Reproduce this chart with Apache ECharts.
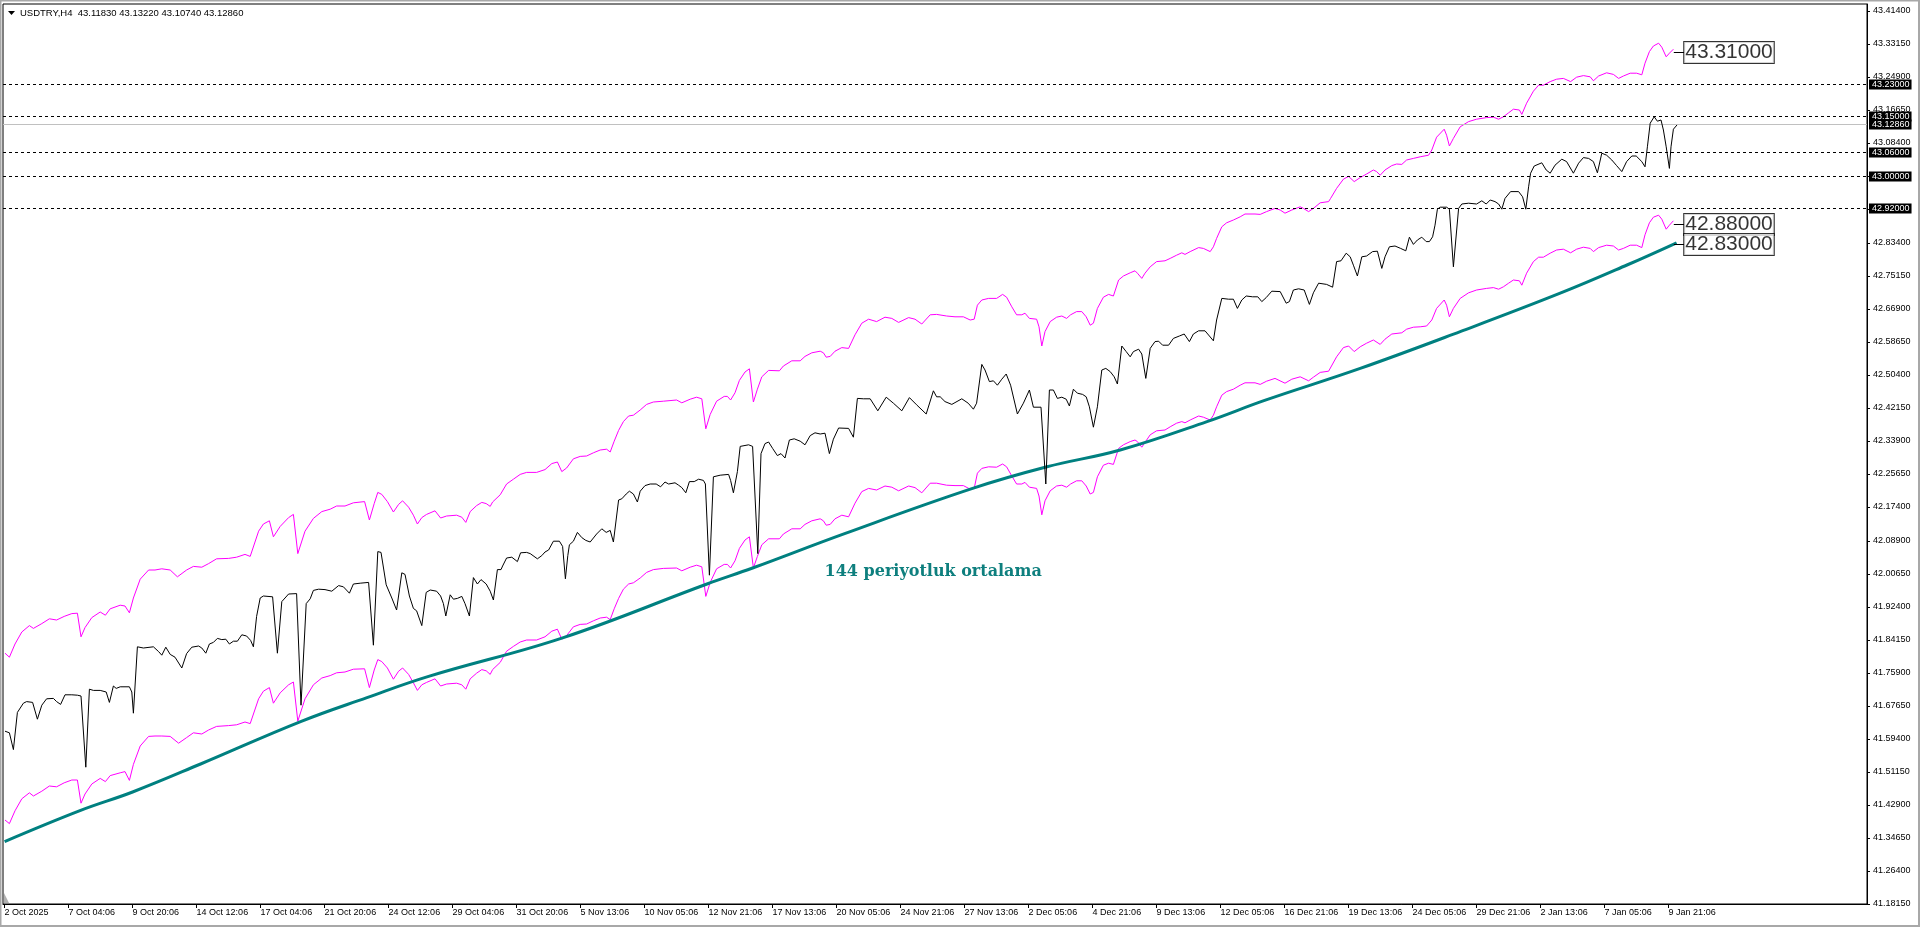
<!DOCTYPE html>
<html><head><meta charset="utf-8">
<script src="https://cdn.jsdelivr.net/npm/echarts@6/dist/echarts.min.js"></script>
<style>html,body{margin:0;padding:0;background:#fff;}#c{width:1920px;height:927px;}</style>
</head><body><div id="c"></div>
<script>
// ---------- data ----------
const symbolName = 'USDTRY,H4';
const ohlc = [43.1183, 43.1322, 43.1074, 43.1286];
const lastPrice = 43.1286;
const levels = [43.23, 43.15, 43.06, 43.00, 42.92];
const boxLabels = [43.31, 42.88, 42.83];
const annotation = '144 periyotluk ortalama';

const xTickBars = [0,16,32,48,64,80,96,112,128,144,160,176,192,208,224,240,256,272,288,304,320,336,352,368,384,400,416];
const xTickLabels = ['2 Oct 2025','7 Oct 04:06','9 Oct 20:06','14 Oct 12:06','17 Oct 04:06','21 Oct 20:06','24 Oct 12:06','29 Oct 04:06','31 Oct 20:06','5 Nov 13:06','10 Nov 05:06','12 Nov 21:06','17 Nov 13:06','20 Nov 05:06','24 Nov 21:06','27 Nov 13:06','2 Dec 05:06','4 Dec 21:06','9 Dec 13:06','12 Dec 05:06','16 Dec 21:06','19 Dec 13:06','24 Dec 05:06','29 Dec 21:06','2 Jan 13:06','7 Jan 05:06','9 Jan 21:06'];
const yTicks = [41.1815,41.264,41.3465,41.429,41.5115,41.594,41.6765,41.759,41.8415,41.924,42.0065,42.089,42.174,42.2565,42.339,42.4215,42.504,42.5865,42.669,42.7515,42.834,42.919,43.0015,43.084,43.1665,43.249,43.3315,43.414];

// price (H4 close) : [bar, value]
const price = [[0.1,41.613],[1.2,41.609],[2.2,41.567],[3.2,41.660],[4.7,41.683],[5.5,41.687],[7,41.685],[8.2,41.643],[9.3,41.678],[10.5,41.694],[12.2,41.695],[13,41.687],[14,41.680],[15.1,41.704],[16.8,41.704],[18.2,41.703],[19.1,41.701],[20.3,41.523],[21.2,41.718],[22.2,41.715],[23.9,41.715],[25.4,41.711],[26.2,41.685],[27.2,41.726],[27.9,41.720],[28.9,41.724],[31.2,41.724],[31.8,41.711],[32.2,41.658],[33.2,41.824],[34.7,41.821],[37.2,41.824],[38.5,41.812],[39.3,41.803],[40.3,41.823],[41.4,41.805],[42.6,41.798],[44.3,41.771],[45.5,41.807],[46.8,41.823],[48.5,41.826],[49.3,41.821],[50.3,41.808],[51.2,41.831],[52.2,41.835],[53.2,41.845],[54.3,41.842],[55.3,41.843],[56.2,41.831],[57.2,41.838],[58.2,41.838],[59.3,41.854],[60.5,41.851],[61.5,41.840],[62.2,41.824],[63,41.900],[63.9,41.946],[64.7,41.951],[67,41.949],[68.2,41.808],[69.3,41.937],[71,41.956],[73,41.957],[74.1,41.678],[75.4,41.932],[76.4,41.944],[77.2,41.965],[78.5,41.968],[80.1,41.967],[81.8,41.963],[83.5,41.977],[84.7,41.974],[86.2,41.958],[87.2,41.981],[88.9,41.983],[91,41.985],[92.2,41.828],[93.3,42.062],[94.1,42.060],[95.4,41.979],[96.8,41.946],[98,41.916],[99.3,42.009],[100.1,42.005],[101.2,41.951],[102.2,41.920],[103,41.914],[104.3,41.877],[105.4,41.960],[106.4,41.966],[108,41.963],[109,41.951],[109.7,41.932],[110.3,41.901],[111.4,41.954],[112.2,41.943],[113.2,41.945],[114.3,41.950],[115.1,41.932],[116.2,41.901],[117.2,41.997],[118.2,41.981],[119.1,41.992],[120.4,41.981],[121.4,41.963],[122.2,41.941],[123.2,42.017],[124.1,42.017],[124.5,42.026],[125.5,42.046],[126.8,42.048],[128.2,42.037],[129,42.059],[130.5,42.060],[131.4,42.057],[133.2,42.044],[134.3,42.052],[135.1,42.061],[136,42.066],[137.2,42.088],[138.7,42.088],[139.5,42.075],[140.2,41.994],[140.8,42.052],[141.2,42.079],[142.2,42.088],[143.2,42.110],[144.3,42.097],[145.3,42.090],[146.4,42.086],[148,42.106],[149.3,42.119],[150.4,42.110],[151.4,42.115],[152.2,42.086],[153.5,42.191],[154.3,42.194],[155.4,42.206],[156.2,42.213],[157.2,42.206],[158.2,42.186],[158.9,42.213],[160.1,42.227],[161.4,42.231],[162.9,42.231],[164,42.224],[165.1,42.236],[166,42.231],[167.6,42.234],[168.5,42.228],[169.3,42.222],[170.3,42.209],[171.2,42.237],[172.4,42.237],[173.5,42.243],[174.7,42.240],[175.2,42.231],[176.2,42.003],[177.2,42.249],[178.9,42.253],[181,42.255],[181.5,42.240],[182.2,42.209],[183.2,42.262],[183.9,42.325],[184.3,42.329],[186,42.329],[187,42.325],[188.3,42.057],[189.1,42.307],[190.1,42.332],[191,42.336],[192,42.320],[193.2,42.302],[194.1,42.307],[195.1,42.296],[196.2,42.341],[197.4,42.344],[198.9,42.338],[200.1,42.329],[201.4,42.352],[202.6,42.359],[203.9,42.356],[205.1,42.358],[206.2,42.307],[207.2,42.343],[208.5,42.371],[211,42.370],[212.2,42.348],[213.2,42.445],[214.7,42.444],[216.4,42.444],[218.3,42.414],[220.4,42.448],[222.2,42.433],[224.3,42.414],[226.2,42.447],[228,42.429],[230.4,42.406],[232.2,42.464],[233,42.449],[233.9,42.449],[235.1,42.437],[236.8,42.430],[239.3,42.444],[240.9,42.433],[242.2,42.418],[243,42.433],[244.3,42.530],[245.1,42.516],[246.2,42.487],[247.2,42.489],[248.2,42.478],[249.3,42.493],[250.4,42.506],[251.5,42.478],[253.2,42.406],[254.7,42.433],[256.2,42.466],[257.2,42.423],[259.1,42.423],[260.3,42.231],[261.2,42.466],[262.2,42.466],[263.2,42.445],[264.3,42.448],[265.4,42.443],[266.2,42.426],[267.2,42.468],[268.2,42.458],[269.5,42.455],[270.4,42.449],[271.2,42.424],[272.2,42.373],[273.2,42.424],[274.3,42.516],[275.3,42.520],[276.4,42.512],[277.4,42.499],[278.2,42.481],[279.3,42.576],[280.4,42.562],[281.4,42.549],[282.2,42.562],[283.5,42.568],[284.3,42.556],[285.3,42.495],[286.4,42.570],[287.6,42.587],[288.5,42.588],[289.5,42.578],[291,42.578],[292.2,42.595],[293.7,42.601],[294.9,42.606],[296.2,42.587],[297.2,42.606],[298.5,42.614],[300.1,42.614],[301.2,42.601],[302.2,42.589],[303,42.641],[304.3,42.695],[306,42.693],[307.2,42.693],[308.2,42.670],[309.3,42.691],[310.4,42.701],[312,42.699],[313.3,42.699],[314.3,42.687],[315.4,42.697],[316.8,42.713],[318.9,42.712],[320.4,42.683],[321.2,42.687],[322.2,42.716],[323.5,42.719],[324.9,42.716],[326.2,42.680],[327.2,42.709],[328.5,42.733],[330.5,42.730],[332,42.723],[333,42.787],[334.1,42.789],[335.4,42.808],[336.4,42.799],[337.2,42.778],[338.2,42.751],[339.3,42.799],[340.5,42.801],[342,42.812],[343.2,42.813],[344.3,42.770],[345.1,42.799],[346.2,42.824],[347.6,42.826],[349,42.820],[350.3,42.814],[351.2,42.848],[352.2,42.830],[353.2,42.841],[354.3,42.848],[355.4,42.837],[356.2,42.837],[357,42.849],[357.6,42.878],[358.2,42.918],[358.9,42.923],[360.5,42.923],[361.2,42.918],[362.2,42.774],[363.5,42.920],[364.3,42.931],[366,42.933],[368,42.931],[369.3,42.939],[370.4,42.931],[371.4,42.941],[372.6,42.937],[373.5,42.931],[374.3,42.918],[375.1,42.945],[376.5,42.962],[378.5,42.962],[379.5,42.949],[380.3,42.918],[381,42.974],[381.5,43.008],[382.4,43.026],[384.3,43.034],[385.4,43.016],[386.4,43.008],[387.6,43.028],[389.3,43.043],[390.5,43.037],[392.2,43.008],[393.5,43.033],[394.7,43.047],[396,43.045],[397.2,43.037],[398.2,43.009],[399.3,43.058],[400.5,43.053],[401.8,43.041],[403,43.027],[404.3,43.012],[405.5,43.037],[406.8,43.051],[407.9,43.051],[409.3,43.037],[410.1,43.024],[410.7,43.074],[411.4,43.133],[412.4,43.149],[413.2,43.138],[414.1,43.141],[414.7,43.116],[415.4,43.074],[416.2,43.020],[416.6,43.074],[417.2,43.118],[418.1,43.1286]];

// upper envelope (magenta)
const upperEnv = [[0.1,41.808],[1.2,41.798],[2.6,41.831],[4.3,41.861],[6.2,41.877],[7.2,41.870],[9.3,41.882],[11.2,41.894],[13,41.891],[14.9,41.900],[16.8,41.907],[18.2,41.908],[19.1,41.849],[20.1,41.872],[21.8,41.897],[23.9,41.911],[25.2,41.903],[26.4,41.919],[28.9,41.928],[30.1,41.926],[31.2,41.909],[32.2,41.946],[33.9,41.993],[36,42.016],[37.6,42.016],[39.3,42.019],[41.4,42.016],[43.2,41.999],[45.5,42.016],[47.2,42.025],[49.3,42.023],[51,42.032],[53,42.044],[56,42.045],[58,42.048],[60.1,42.055],[61.4,42.050],[63.5,42.113],[64.7,42.131],[66.2,42.139],[67.2,42.099],[68.9,42.125],[71,42.147],[72.2,42.155],[73.3,42.057],[75.1,42.113],[77.2,42.145],[79.3,42.162],[81.4,42.168],[83,42.176],[85.1,42.176],[87.2,42.184],[90,42.187],[91.2,42.141],[92.4,42.182],[93.3,42.210],[94.3,42.205],[95.7,42.187],[97.2,42.161],[98.5,42.180],[99.5,42.189],[101,42.173],[102.2,42.153],[103.2,42.131],[104.3,42.147],[105.5,42.155],[107.6,42.164],[109,42.146],[110.5,42.151],[113,42.153],[114.3,42.148],[115.3,42.135],[116.4,42.162],[118,42.177],[119.3,42.185],[120.4,42.182],[121.4,42.175],[122,42.186],[123.9,42.204],[125.5,42.231],[127.2,42.243],[128.9,42.255],[130.5,42.260],[133,42.260],[135.1,42.267],[136.8,42.282],[138.2,42.286],[139.3,42.262],[140.5,42.271],[142.2,42.294],[143.9,42.300],[145.5,42.301],[147.2,42.309],[148.9,42.316],[150.5,42.318],[151.4,42.311],[152.4,42.338],[153.5,42.365],[154.7,42.387],[156,42.401],[157.2,42.403],[158.9,42.416],[160.5,42.430],[162.2,42.436],[164.7,42.438],[168,42.441],[169.3,42.434],[171.4,42.443],[173,42.448],[174.3,42.444],[175.3,42.369],[176.4,42.405],[178,42.438],[179.9,42.450],[180.7,42.450],[181.5,42.441],[182.6,42.459],[183.7,42.490],[185.1,42.511],[186.2,42.519],[187.2,42.436],[188.2,42.468],[189.3,42.499],[191,42.515],[193.7,42.514],[194.7,42.526],[196.8,42.539],[198.9,42.539],[200.1,42.550],[201.8,42.559],[203.9,42.563],[204.7,42.559],[205.4,42.548],[206.4,42.550],[207.6,42.563],[209.3,42.572],[211,42.570],[212.6,42.604],[214.3,42.633],[216,42.643],[218,42.637],[220.1,42.648],[221.8,42.645],[223.5,42.635],[226,42.647],[227.6,42.643],[229.3,42.631],[231.4,42.654],[233,42.655],[235.5,42.651],[237.6,42.649],[239.7,42.649],[241.4,42.641],[242.4,42.643],[243.2,42.678],[244.3,42.691],[246,42.695],[248,42.695],[249.5,42.705],[250.5,42.698],[251.8,42.674],[253,42.654],[254.3,42.654],[255.1,42.658],[256.2,42.645],[258,42.643],[258.6,42.624],[259.3,42.576],[260.1,42.612],[261.4,42.637],[263,42.648],[264.3,42.651],[265.5,42.645],[266.5,42.654],[268,42.662],[269.3,42.662],[270.4,42.649],[271.4,42.628],[272.2,42.633],[273.2,42.670],[274.7,42.698],[276,42.705],[277.2,42.701],[278.5,42.741],[279.7,42.751],[281.4,42.759],[282.6,42.764],[283.2,42.758],[284.3,42.745],[285.1,42.758],[286.4,42.774],[288,42.787],[290.1,42.789],[291.4,42.795],[293,42.803],[294.3,42.809],[295.1,42.805],[296.4,42.812],[298.5,42.822],[299.7,42.820],[301.4,42.812],[302.2,42.824],[303,42.845],[304.3,42.874],[305.5,42.884],[307.2,42.891],[308.9,42.899],[310.1,42.906],[312.6,42.906],[313.9,42.905],[315.5,42.912],[317.6,42.920],[318.9,42.916],[320.1,42.908],[321.8,42.916],[323.9,42.924],[324.7,42.920],[326,42.912],[327.2,42.920],[328.9,42.934],[331,42.937],[331.5,42.945],[333,42.970],[334.7,42.993],[336,43.000],[337.4,42.987],[338.9,42.997],[340.5,43.006],[342.2,43.016],[343,43.012],[343.9,43.003],[345.1,43.016],[346.8,43.027],[348,43.031],[349.3,43.030],[350.5,43.041],[352.2,43.045],[353.9,43.049],[356,43.053],[356.8,43.066],[358,43.098],[359.9,43.118],[360.5,43.103],[361.2,43.076],[362.2,43.095],[363.9,43.124],[366,43.137],[368,43.143],[370.5,43.147],[372.2,43.148],[373.5,43.143],[374.7,43.149],[376,43.159],[377.2,43.168],[378.7,43.166],[379.3,43.155],[380.5,43.183],[382.2,43.213],[383.5,43.228],[384.7,43.228],[386.4,43.237],[388,43.243],[389.7,43.245],[391.5,43.237],[393,43.248],[394.7,43.252],[396.4,43.249],[397.2,43.239],[398.5,43.251],[400.5,43.259],[402.2,43.255],[403.5,43.245],[404.7,43.251],[406.4,43.258],[408,43.258],[409.3,43.254],[410.1,43.283],[411.2,43.312],[412.2,43.326],[413.5,43.333],[414.3,43.323],[415.4,43.299],[416.2,43.308],[417.2,43.318]];

// lower envelope (magenta)
const lowerEnv = [[0.1,41.391],[1.2,41.382],[2.6,41.414],[4.3,41.444],[6.2,41.459],[7.2,41.451],[9.3,41.463],[11.2,41.476],[13,41.474],[14.9,41.484],[16.8,41.491],[18.2,41.491],[19.1,41.433],[20.1,41.456],[21.8,41.481],[23.9,41.495],[25.2,41.487],[26.4,41.502],[28.9,41.509],[30.1,41.512],[31.2,41.490],[32.2,41.530],[33.9,41.576],[36,41.600],[37.6,41.601],[39.3,41.601],[41.4,41.600],[43.5,41.583],[45.5,41.597],[47.2,41.609],[49.3,41.606],[51,41.616],[53,41.625],[56,41.627],[58,41.629],[60.1,41.636],[61.4,41.632],[63.5,41.694],[64.7,41.713],[66.2,41.722],[67.2,41.683],[68.9,41.709],[71,41.729],[72.2,41.736],[73.3,41.638],[75.1,41.694],[77.2,41.729],[79.3,41.746],[81.4,41.752],[83,41.759],[85.1,41.761],[87.2,41.768],[90,41.769],[91.2,41.722],[92.4,41.766],[93.3,41.792],[94.3,41.787],[95.7,41.771],[97.2,41.743],[98.5,41.763],[99.5,41.771],[101,41.755],[102.2,41.734],[103.2,41.715],[104.3,41.729],[105.5,41.735],[107.6,41.744],[109,41.726],[110.5,41.731],[113,41.733],[114.3,41.729],[115.3,41.718],[116.4,41.744],[118,41.758],[119.3,41.767],[120.4,41.764],[121.4,41.755],[122,41.767],[123.9,41.785],[125.5,41.813],[127.2,41.825],[128.9,41.836],[130.5,41.841],[133,41.841],[135.1,41.849],[136.8,41.863],[138.2,41.868],[139.3,41.843],[140.5,41.852],[142.2,41.874],[143.9,41.880],[145.5,41.881],[147.2,41.889],[148.9,41.896],[150.5,41.898],[151.4,41.892],[152.4,41.919],[153.5,41.945],[154.7,41.968],[156,41.981],[157.2,41.984],[158.9,41.996],[160.5,42.010],[162.2,42.017],[164.7,42.020],[168,42.021],[169.3,42.014],[171.4,42.023],[173,42.028],[174.3,42.024],[175.3,41.950],[176.4,41.985],[178,42.019],[179.9,42.030],[180.7,42.030],[181.5,42.021],[182.6,42.039],[183.7,42.070],[185.1,42.091],[186.2,42.099],[187.2,42.021],[188.2,42.050],[189.3,42.079],[191,42.094],[193.7,42.094],[194.7,42.106],[196.8,42.119],[198.9,42.119],[200.1,42.130],[201.8,42.139],[203.9,42.144],[204.7,42.139],[205.4,42.128],[206.4,42.130],[207.6,42.144],[209.3,42.153],[211,42.149],[211.4,42.145],[212.6,42.183],[214.3,42.212],[216,42.220],[218,42.216],[220.1,42.226],[221.8,42.223],[223.5,42.214],[226,42.226],[227.6,42.222],[229.3,42.209],[231.4,42.233],[233,42.233],[235.5,42.228],[237.6,42.227],[239.7,42.227],[241.4,42.218],[242.4,42.220],[243.2,42.258],[244.3,42.270],[246,42.274],[248,42.273],[249.5,42.281],[250.5,42.274],[251.8,42.251],[253,42.231],[254.3,42.231],[255.1,42.235],[256.2,42.223],[258,42.220],[258.6,42.201],[259.3,42.154],[260.1,42.189],[261.4,42.214],[263,42.226],[264.3,42.228],[265.5,42.223],[266.5,42.231],[268,42.239],[269.3,42.239],[270.4,42.226],[271.4,42.206],[272.2,42.210],[273.2,42.249],[274.7,42.278],[276,42.283],[277.2,42.280],[278.5,42.320],[279.7,42.329],[281.4,42.337],[282.6,42.341],[283.2,42.337],[284.3,42.323],[285.1,42.335],[286.4,42.354],[288,42.364],[290.1,42.366],[291.4,42.374],[293,42.383],[294.3,42.387],[295.1,42.384],[296.4,42.391],[298.5,42.401],[299.7,42.398],[301.4,42.391],[302.2,42.403],[303,42.424],[304.3,42.453],[305.5,42.462],[307.2,42.468],[308.9,42.478],[310.1,42.484],[312.6,42.484],[313.9,42.480],[315.5,42.488],[317.6,42.495],[320.1,42.483],[321.8,42.493],[323.9,42.499],[326,42.489],[327.2,42.498],[328.9,42.510],[331,42.513],[333,42.549],[334.7,42.572],[336,42.576],[337.4,42.562],[338.9,42.574],[340.5,42.583],[342.2,42.591],[343.9,42.580],[345.1,42.593],[346.8,42.606],[349.3,42.609],[350.5,42.618],[352.2,42.623],[353.9,42.624],[355.5,42.626],[356.8,42.641],[358,42.670],[359.9,42.691],[360.5,42.678],[361.2,42.649],[362.2,42.670],[363.9,42.695],[366,42.709],[368,42.716],[370.5,42.720],[372.2,42.722],[373.5,42.718],[374.7,42.724],[376,42.733],[377.2,42.741],[378.7,42.739],[379.3,42.728],[380.5,42.758],[382.2,42.787],[383.5,42.798],[384.7,42.798],[386.4,42.808],[388,42.816],[389.7,42.818],[391.5,42.809],[393,42.818],[394.7,42.823],[396.4,42.820],[397.2,42.812],[398.5,42.822],[400.5,42.828],[402.2,42.826],[403.5,42.816],[404.7,42.820],[406.4,42.828],[408,42.828],[409.3,42.822],[410.1,42.854],[411.2,42.884],[412.2,42.898],[413.5,42.903],[414.3,42.893],[415.4,42.868],[416.2,42.878],[417.2,42.889]];

// 144-period moving average (teal)
const ma144 = [[0,41.337],[19,41.415],[32,41.461],[49,41.531],[74,41.637],[90.6,41.697],[106,41.750],[139.7,41.847],[175.6,41.981],[187,42.021],[210,42.107],[242,42.220],[260.6,42.274],[278.9,42.316],[300.6,42.387],[315,42.440],[338.9,42.520],[363.9,42.612],[388.9,42.708],[405.6,42.7785],[418,42.834]];

// ---------- chart ----------
const FONT = 'Liberation Sans';
const LAST_BAR = 417.3, BOX_BAR = 419.9;
const chart = echarts.init(document.getElementById('c'), null, {renderer: 'canvas'});

const levelLines = levels.map(v => ({
  yAxis: v, name: v.toFixed(5),
  lineStyle: {type: [3, 3], color: '#000', width: 1},
}));
levelLines.push({yAxis: lastPrice, name: lastPrice.toFixed(5), lineStyle: {type: 'solid', color: '#c0c0c0', width: 1}});

const option = {
  animation: false,
  backgroundColor: '#ffffff',
  grid: {left: 3, right: 53, top: 4, bottom: 23, show: true, borderColor: '#000', borderWidth: 1, backgroundColor: '#fff'},
  xAxis: {
    type: 'value', min: -0.4, max: 465.6,
    splitLine: {show: false},
    axisLine: {show: true, onZero: false, lineStyle: {color: '#000', width: 1}},
    axisTick: {show: true, customValues: xTickBars, length: 4, lineStyle: {color: '#000'}},
    axisLabel: {customValues: xTickBars, formatter: v => xTickLabels[xTickBars.indexOf(Math.round(v))] || '',
      align: 'left', margin: 4, fontSize: 9, fontFamily: FONT, color: '#000'}
  },
  yAxis: {
    type: 'value', position: 'right', min: 41.181, max: 43.431, scale: true,
    splitLine: {show: false},
    axisLine: {show: true, onZero: false, lineStyle: {color: '#000', width: 1}},
    axisTick: {show: true, customValues: yTicks, length: 3, lineStyle: {color: '#000'}},
    axisLabel: {customValues: yTicks, formatter: v => v.toFixed(5), margin: 6, fontSize: 9, fontFamily: FONT, color: '#000'}
  },
  series: [
    {
      name: 'upper', type: 'line', data: upperEnv, showSymbol: false, symbol: 'none',
      lineStyle: {color: '#ff00ff', width: 1}, z: 3
    },
    {
      name: 'lower', type: 'line', data: lowerEnv, showSymbol: false, symbol: 'none',
      lineStyle: {color: '#ff00ff', width: 1}, z: 3
    },
    {
      name: 'ma144', type: 'line', data: ma144, showSymbol: false, symbol: 'none', smooth: 0.4,
      lineStyle: {color: '#008080', width: 3}, z: 4,
      markPoint: {
        symbol: 'rect', symbolSize: 0, silent: true,
        data: [{coord: [205, 42.011], value: annotation}],
        label: {show: true, position: 'right', distance: 0, formatter: annotation,
          fontFamily: 'DejaVu Serif', fontWeight: 'bold', fontSize: 16, color: '#0e7f7e'}
      }
    },
    {
      name: 'price', type: 'line', data: price, showSymbol: false, symbol: 'none',
      lineStyle: {color: '#000', width: 1}, z: 5,
      markLine: {
        silent: true, symbol: 'none', animation: false,
        label: {show: true, position: 'end', distance: 2, formatter: p => p.name,
          backgroundColor: '#000', color: '#fff', fontFamily: FONT, fontSize: 9, padding: [1, 2, 0, 3]},
        data: levelLines
      }
    },
    {
      name: 'boxes', type: 'scatter', symbolSize: 0, z: 6,
      data: boxLabels.map(v => [BOX_BAR, v]),
      label: {show: true, position: 'right', distance: 0, formatter: p => p.value[1].toFixed(5),
        fontFamily: FONT, fontSize: 21, color: '#000', backgroundColor: '#fff',
        borderColor: '#000', borderWidth: 1, padding: [1, 1, 0, 1], lineHeight: 20},
      markLine: {
        silent: true, symbol: 'none', animation: false, label: {show: false},
        lineStyle: {color: '#000', width: 1, type: 'solid'},
        data: boxLabels.map(v => [{coord: [LAST_BAR, v]}, {coord: [BOX_BAR, v]}])
      }
    }
  ],
  graphic: [
    {type: 'rect', shape: {x: 0.5, y: 0.5, width: 1918.5, height: 925.5}, style: {fill: 'none', stroke: '#a8a8a8', lineWidth: 2}, silent: true},
    {type: 'polygon', shape: {points: [[8, 11], [15, 11], [11.5, 15]]}, style: {fill: '#000'}, silent: true},
    {type: 'text', left: 20, top: 8, style: {text: symbolName + '  ' + ohlc.map(v => v.toFixed(5)).join(' '),
      font: '9.5px "Liberation Sans"', fill: '#000'}, silent: true},
    {type: 'polygon', shape: {points: [[4, 893], [4, 903], [9, 903]]}, style: {fill: '#b0b0b0'}, silent: true}
  ]
};
chart.setOption(option);
</script>
</body></html>
